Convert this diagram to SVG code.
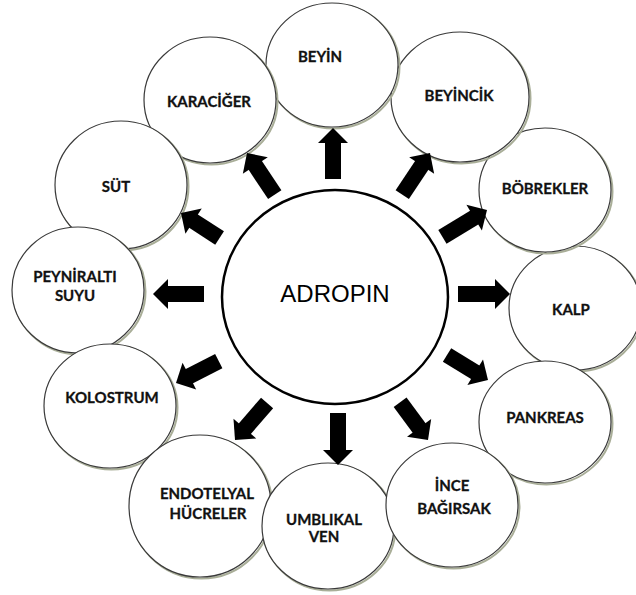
<svg xmlns="http://www.w3.org/2000/svg" width="636" height="595" viewBox="0 0 636 595">
<style>
.bg{fill:#ffffff}
.sh{fill:none;stroke:#a9ae98;stroke-width:2}
.c{fill:#ffffff;stroke:#3a3a3a;stroke-width:1.2}
.t{font-family:Lato,"Liberation Sans",sans-serif;font-weight:bold;font-size:15px;fill:#111111;stroke:#111111;stroke-width:0.3;text-anchor:middle}
.main{fill:#ffffff;stroke:#000000;stroke-width:2.5}
.mt{font-family:"Liberation Sans",Arial,sans-serif;font-size:24px;fill:#000000;text-anchor:middle}
.ar{fill:#000000}
</style>
<defs>
<path id="arr" d="M-15,-15 L0,0 L-15,15 Z"/>
</defs>
<rect class="bg" x="0" y="0" width="636" height="595"/>
<g id="n-kalp"><ellipse class="sh" cx="576.5" cy="309.5" rx="66" ry="62"/><ellipse class="c" cx="575" cy="308" rx="66" ry="62"/><text class="t" x="571" y="315">KALP</text></g>
<g id="n-bobrekler"><ellipse class="sh" cx="546.5" cy="191.5" rx="66" ry="62"/><ellipse class="c" cx="545" cy="190" rx="66" ry="62"/><text class="t" x="545" y="194">BÖBREKLER</text></g>
<g id="n-pankreas"><ellipse class="sh" cx="546.5" cy="423.5" rx="66" ry="61"/><ellipse class="c" cx="545" cy="422" rx="66" ry="61"/><text class="t" x="545" y="423">PANKREAS</text></g>
<g id="n-beyincik"><ellipse class="sh" cx="461.5" cy="98.5" rx="69" ry="65"/><ellipse class="c" cx="460" cy="97" rx="69" ry="65"/><text class="t" x="459" y="101">BEYİNCİK</text></g>
<g id="n-beyin"><ellipse class="sh" cx="333.5" cy="66.5" rx="66" ry="62"/><ellipse class="c" cx="332" cy="65" rx="66" ry="62"/><text class="t" x="320" y="62">BEYİN</text></g>
<g id="n-karaciger"><ellipse class="sh" cx="211.5" cy="101.5" rx="66" ry="63"/><ellipse class="c" cx="210" cy="100" rx="66" ry="63"/><text class="t" x="209" y="107">KARACİĞER</text></g>
<g id="n-sut"><ellipse class="sh" cx="122.5" cy="186.5" rx="66" ry="64"/><ellipse class="c" cx="121" cy="185" rx="66" ry="64"/><text class="t" x="116" y="192">SÜT</text></g>
<g id="n-peyniralti"><ellipse class="sh" cx="79.5" cy="291.5" rx="66" ry="63"/><ellipse class="c" cx="78" cy="290" rx="66" ry="63"/><text class="t" x="75" y="282">PEYNİRALTI</text><text class="t" x="75" y="301">SUYU</text></g>
<g id="n-kolostrum"><ellipse class="sh" cx="111.5" cy="407.5" rx="66" ry="62"/><ellipse class="c" cx="110" cy="406" rx="66" ry="62"/><text class="t" x="112" y="403">KOLOSTRUM</text></g>
<g id="n-endotelyal"><ellipse class="sh" cx="201.5" cy="507.5" rx="71" ry="71"/><ellipse class="c" cx="200" cy="506" rx="71" ry="71"/><text class="t" x="207" y="499">ENDOTELYAL</text><text class="t" x="208" y="519">HÜCRELER</text></g>
<g id="n-umblikal"><ellipse class="sh" cx="329.5" cy="527.5" rx="66" ry="63"/><ellipse class="c" cx="328" cy="526" rx="66" ry="63"/><text class="t" x="324" y="525">UMBLIKAL</text><text class="t" x="324" y="542">VEN</text></g>
<g id="n-ince"><ellipse class="sh" cx="453.5" cy="506.5" rx="66" ry="62"/><ellipse class="c" cx="452" cy="505" rx="66" ry="62"/><text class="t" x="452" y="491">İNCE</text><text class="t" x="454" y="514">BAĞIRSAK</text></g>
<g id="n-adropin"><ellipse class="main" cx="335" cy="297" rx="113" ry="107"/><text class="mt" x="335" y="302">ADROPIN</text></g>
<g id="connectors" class="ar">
<g transform="translate(333,128) rotate(-90)"><rect x="-51" y="-8" width="37" height="16"/><use href="#arr"/></g>
<g transform="translate(430,153) rotate(-56.3)"><rect x="-50" y="-8" width="36" height="16"/><use href="#arr"/></g>
<g transform="translate(487,210) rotate(-31)"><rect x="-52" y="-8" width="38" height="16"/><use href="#arr"/></g>
<g transform="translate(510,294) rotate(0)"><rect x="-52" y="-8" width="38" height="16"/><use href="#arr"/></g>
<g transform="translate(488,380) rotate(31.4)"><rect x="-48" y="-8" width="34" height="16"/><use href="#arr"/></g>
<g transform="translate(428,440) rotate(53.6)"><rect x="-47" y="-8" width="33" height="16"/><use href="#arr"/></g>
<g transform="translate(338,465) rotate(90)"><rect x="-52" y="-8" width="38" height="16"/><use href="#arr"/></g>
<g transform="translate(235,440) rotate(130.9)"><rect x="-49" y="-8" width="35" height="16"/><use href="#arr"/></g>
<g transform="translate(176,383) rotate(153)"><rect x="-48" y="-8" width="34" height="16"/><use href="#arr"/></g>
<g transform="translate(153,294) rotate(180)"><rect x="-51" y="-8" width="37" height="16"/><use href="#arr"/></g>
<g transform="translate(181,213) rotate(-147)"><rect x="-46" y="-8" width="32" height="16"/><use href="#arr"/></g>
<g transform="translate(247,153) rotate(-123.7)"><rect x="-50" y="-8" width="36" height="16"/><use href="#arr"/></g>
</g>
</svg>
